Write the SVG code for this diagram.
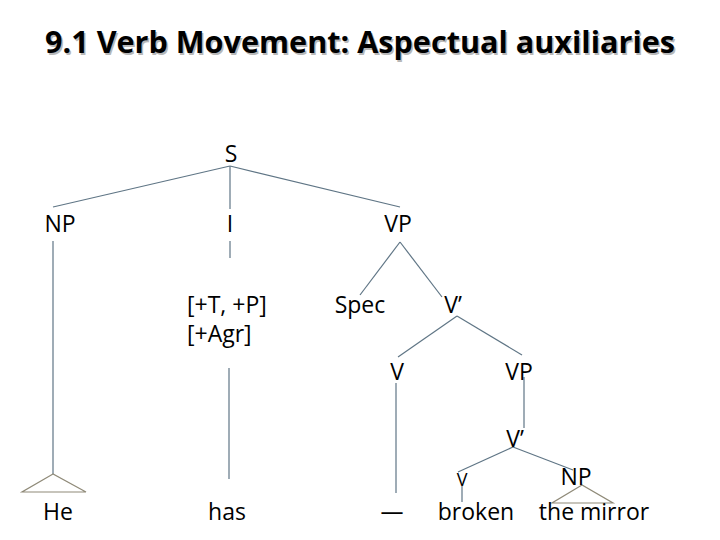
<svg xmlns="http://www.w3.org/2000/svg" width="720" height="540" viewBox="0 0 720 540">
<style>
.t{font-family:"Open Sans","Noto Sans","Liberation Sans",sans-serif;font-size:23px;fill:#000;text-anchor:middle}
.st{text-anchor:start}
.sm{font-size:18px}
.title{font-family:"Open Sans","Noto Sans","Liberation Sans",sans-serif;font-size:31px;font-weight:bold}
.e{stroke:#5f7585;stroke-width:1.2;fill:none}
.tri{stroke:#8f8a78;stroke-width:1.2;fill:none}
</style>
<rect width="720" height="540" fill="#fff"/>
<text class="title" x="46.5" y="54.5" fill="#b8b8b8" textLength="630" lengthAdjust="spacingAndGlyphs">9.1 Verb Movement: Aspectual auxiliaries</text>
<text class="title" x="45" y="53" fill="#000" textLength="630" lengthAdjust="spacingAndGlyphs">9.1 Verb Movement: Aspectual auxiliaries</text>
<g id="edges">
<line class="e" x1="230" y1="166" x2="53" y2="207"/>
<line class="e" x1="230" y1="166" x2="400" y2="207"/>
<line class="e" x1="230" y1="166" x2="230" y2="209"/>
<line class="e" x1="53" y1="241" x2="53" y2="474"/>
<line class="e" x1="230" y1="241" x2="230" y2="258"/>
<line class="e" x1="229" y1="368" x2="229" y2="479"/>
<line class="e" x1="400" y1="242" x2="360" y2="295"/>
<line class="e" x1="400" y1="242" x2="442" y2="297"/>
<line class="e" x1="457" y1="316" x2="398" y2="357"/>
<line class="e" x1="457" y1="316" x2="522" y2="355"/>
<line class="e" x1="396" y1="383" x2="396" y2="493"/>
<line class="e" x1="524" y1="377" x2="524" y2="428"/>
<line class="e" x1="513" y1="447" x2="458" y2="472"/>
<line class="e" x1="513" y1="447" x2="573" y2="470"/>
<line class="e" x1="462" y1="486" x2="462" y2="502"/>
<polygon class="tri" points="53,474 22,492 86,492"/>
<polygon class="tri" points="582,485 552,503 613,503"/>
</g>
<g id="S"><text class="t" x="231" y="162">S</text></g>
<g id="NP"><text class="t" x="60" y="232">NP</text></g>
<g id="I"><text class="t" x="230" y="232">I</text></g>
<g id="VP"><text class="t" x="398" y="232">VP</text></g>
<g id="feat"><text class="t st" x="187" y="313">[+T, +P]</text><text class="t st" x="187" y="342">[+Agr]</text></g>
<g id="Spec"><text class="t" x="360" y="313">Spec</text></g>
<g id="Vbar"><text class="t" x="453" y="313">V’</text></g>
<g id="V"><text class="t" x="397" y="380">V</text></g>
<g id="VP2"><text class="t" x="519" y="380">VP</text></g>
<g id="Vbar2"><text class="t" x="515" y="447">V’</text></g>
<g id="v"><text class="t sm" x="462" y="486">V</text></g>
<g id="NP2"><text class="t" x="576" y="485">NP</text></g>
<g id="He"><text class="t" x="58" y="520">He</text></g>
<g id="has"><text class="t" x="227" y="520">has</text></g>
<g id="trace"><text class="t" x="392" y="520">—</text></g>
<g id="broken"><text class="t" x="476" y="520">broken</text></g>
<g id="mirror"><text class="t" x="594" y="520">the mirror</text></g>
</svg>
